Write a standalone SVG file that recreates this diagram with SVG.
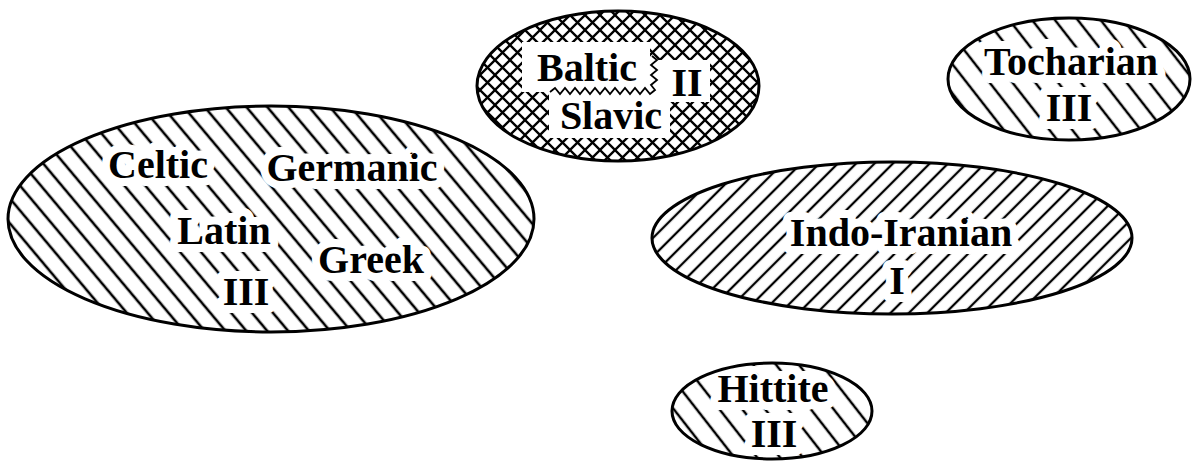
<svg xmlns="http://www.w3.org/2000/svg" width="1197" height="467" viewBox="0 0 1197 467">
<defs>
<pattern id="hatchBack" patternUnits="userSpaceOnUse" width="16" height="16" patternTransform="rotate(-40)">
<line x1="8" y1="-1" x2="8" y2="17" stroke="#000" stroke-width="2.6"/>
</pattern>
<pattern id="hatchBackWide" patternUnits="userSpaceOnUse" width="18" height="18" patternTransform="rotate(-38)">
<line x1="9" y1="-1" x2="9" y2="19" stroke="#000" stroke-width="2.5"/>
</pattern>
<pattern id="hatchFwd" patternUnits="userSpaceOnUse" width="13" height="13" patternTransform="rotate(45)">
<line x1="6" y1="-1" x2="6" y2="14" stroke="#000" stroke-width="2.3"/>
</pattern>
<pattern id="cross" patternUnits="userSpaceOnUse" width="15" height="15">
<path d="M0,0 L15,15 M15,0 L0,15" stroke="#000" stroke-width="2.3" fill="none"/>
</pattern>
</defs>
<style>
.lbl{font-family:"Liberation Serif","Times New Roman",serif;font-weight:bold;font-size:40px;fill:#000;text-anchor:middle;stroke:#fff;stroke-width:16px;stroke-linejoin:round;paint-order:stroke}
.plain{stroke-width:0}
.outline{fill:none;stroke:#000;stroke-width:3}
</style>
<rect width="1197" height="467" fill="#fff"/>
<g id="western">
<ellipse cx="271" cy="219" rx="263" ry="113" fill="url(#hatchBack)"/>
<text class="lbl" x="158" y="178">Celtic</text>
<text class="lbl" x="352" y="181">Germanic</text>
<text class="lbl" x="224" y="244">Latin</text>
<text class="lbl" x="371" y="273">Greek</text>
<text class="lbl" x="246" y="305">III</text>
<ellipse class="outline" cx="271" cy="219" rx="263" ry="113"/>
</g>
<g id="balto-slavic">
<ellipse cx="618" cy="86" rx="141" ry="75" fill="url(#cross)"/>
<path d="M522,42 L650,42 L650,60 L710,60 L710,102 L670,102 L670,138 L549,138 L549,92 L522,92 Z" fill="#fff"/>
<polyline points="550,92 555,88 560,94 565,88 570,94 575,88 580,94 585,88 590,94 595,88 600,94 605,88 610,94 615,88 620,94 625,88 630,94 635,88 640,94 645,88 650,94 655,90 651,85 657,80 651,75 657,70 651,65 657,60 652,56" fill="none" stroke="#000" stroke-width="1.8"/>
<text class="lbl plain" x="587" y="81">Baltic</text>
<text class="lbl plain" x="687" y="96">II</text>
<text class="lbl plain" x="611" y="129">Slavic</text>
<ellipse class="outline" cx="618" cy="86" rx="141" ry="75"/>
</g>
<g id="tocharian">
<ellipse cx="1069" cy="79" rx="121" ry="61" fill="url(#hatchBackWide)"/>
<text class="lbl" x="1071" y="75">Tocharian</text>
<text class="lbl" x="1069" y="121">III</text>
<ellipse class="outline" cx="1069" cy="79" rx="121" ry="61"/>
</g>
<g id="indo-iranian">
<ellipse cx="892" cy="238" rx="240" ry="76" fill="url(#hatchFwd)"/>
<text class="lbl" x="901" y="246">Indo-Iranian</text>
<text class="lbl" x="897" y="294">I</text>
<ellipse class="outline" cx="892" cy="238" rx="240" ry="76"/>
</g>
<g id="hittite">
<ellipse cx="772" cy="411" rx="100" ry="48" fill="url(#hatchBackWide)"/>
<text class="lbl" x="773" y="402">Hittite</text>
<text class="lbl" x="774" y="447">III</text>
<ellipse class="outline" cx="772" cy="411" rx="100" ry="48"/>
</g>
<g id="connectors"/>
</svg>
